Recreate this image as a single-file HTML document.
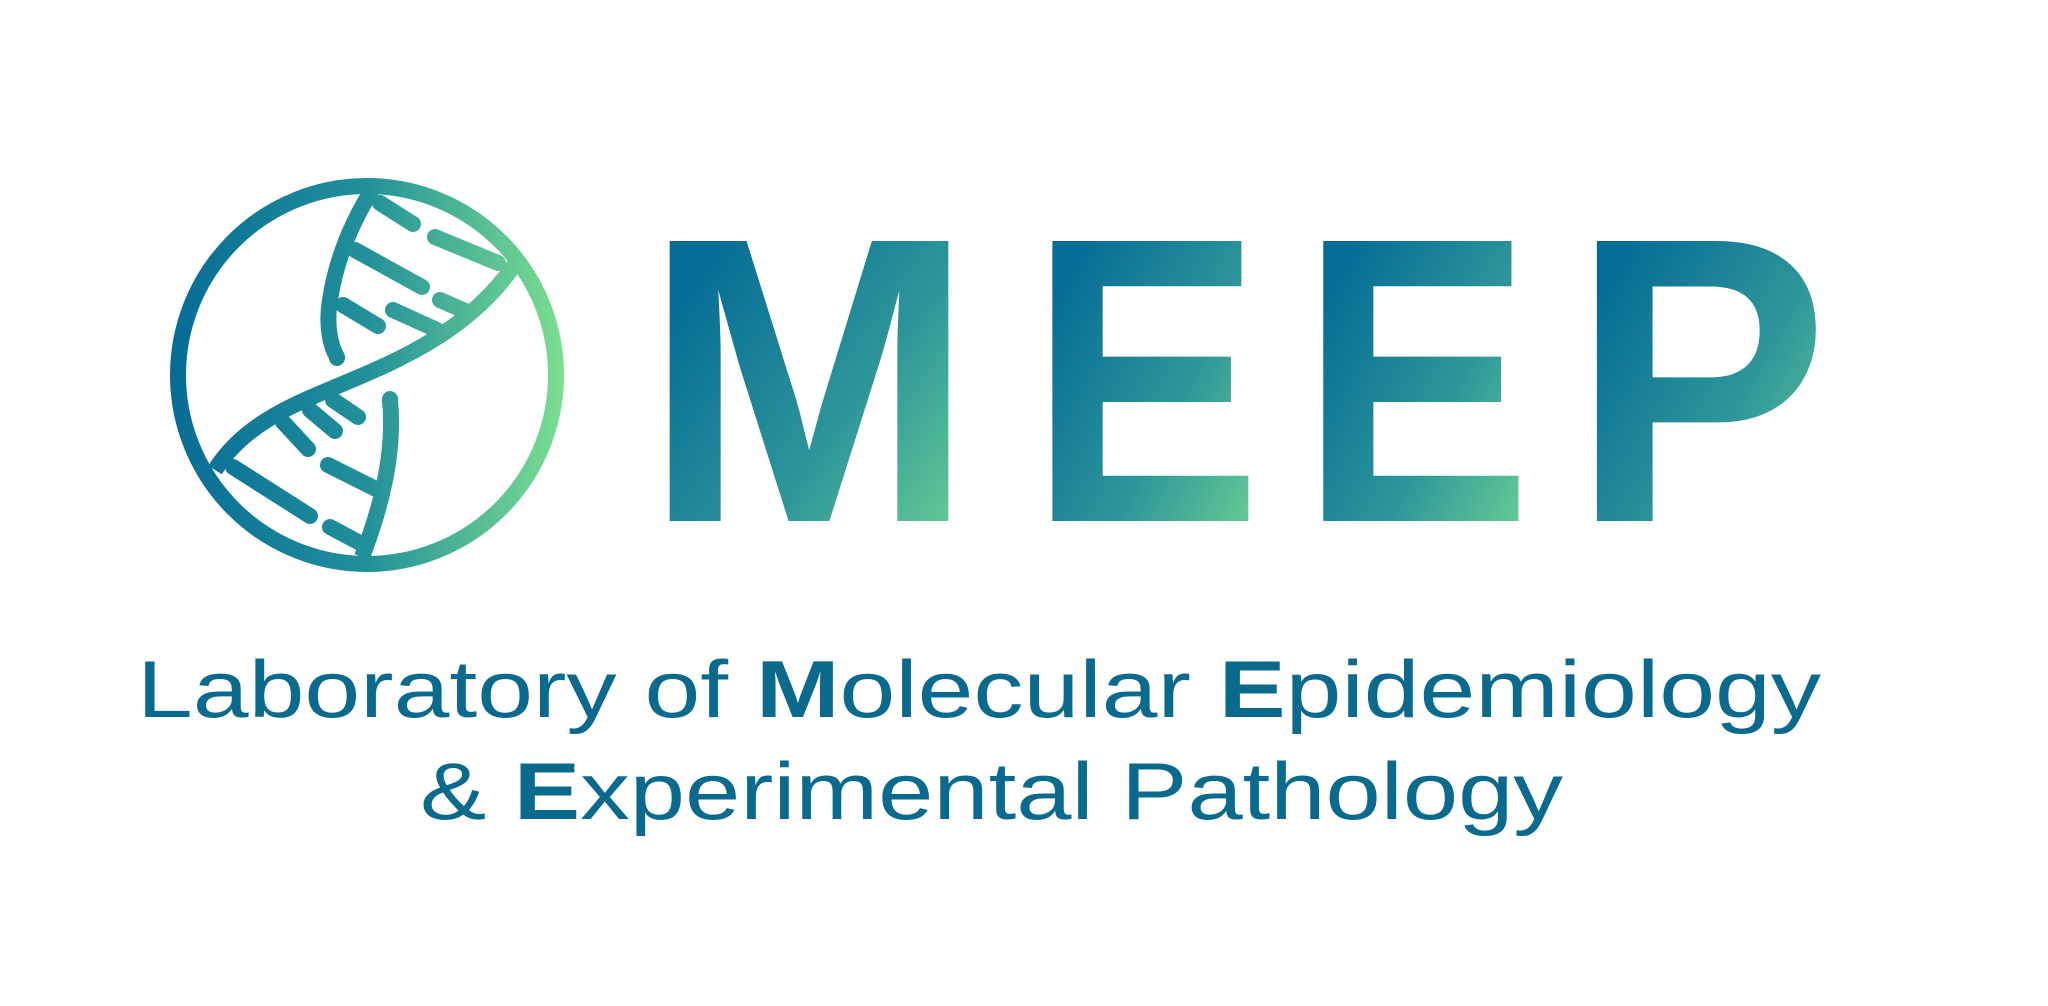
<!DOCTYPE html>
<html><head><meta charset="utf-8"><style>
html,body{margin:0;padding:0;background:#fff;}
svg{display:block}
</style></head><body>
<svg width="2048" height="1006" viewBox="0 0 2048 1006" xmlns="http://www.w3.org/2000/svg">
<defs>
<linearGradient id="gl" x1="0" y1="0" x2="1" y2="1">
<stop offset="0.2" stop-color="#066b95"/><stop offset="0.6" stop-color="#2e979a"/><stop offset="1" stop-color="#7ddf90"/>
</linearGradient>
<linearGradient id="gc" gradientUnits="userSpaceOnUse" x1="168" y1="0" x2="565" y2="0">
<stop offset="0" stop-color="#066b95"/><stop offset="0.5" stop-color="#22909a"/><stop offset="1" stop-color="#7ddf90"/>
</linearGradient>
</defs>
<g fill="none" stroke="url(#gc)" stroke-width="16" stroke-linecap="round">
<circle cx="367" cy="375" r="189"/>
<path d="M372 190 C352 222 336 260 330 300 C326 325 330 345 337 357" stroke-linecap="butt"/>
<path d="M337 357 L337 358"/>
<path d="M215 470 C245 422 300 402 340 385 C400 360 470 330 515 264" stroke-linecap="butt"/>
<path d="M390 400 C394 440 388 490 362 557" stroke-linecap="butt"/>
<path d="M390 400 L390 399"/>
<line x1="380" y1="203" x2="413" y2="224"/>
<line x1="435" y1="237" x2="498" y2="263"/>
<line x1="355" y1="250" x2="422" y2="287"/>
<line x1="440" y1="300" x2="465" y2="311"/>
<line x1="343" y1="305" x2="378" y2="326"/>
<line x1="393" y1="310" x2="437" y2="330"/>
<line x1="333" y1="400" x2="358" y2="417"/>
<line x1="310" y1="410" x2="335" y2="431"/>
<line x1="283" y1="422" x2="308" y2="449"/>
<line x1="233" y1="467" x2="310" y2="516"/>
<line x1="328" y1="465" x2="376" y2="489"/>
<line x1="330" y1="527" x2="360" y2="543"/>
</g>
<g font-family="Liberation Sans, sans-serif" font-weight="bold" font-size="407" fill="url(#gl)">
<text x="643" y="521" textLength="332" lengthAdjust="spacingAndGlyphs">M</text>
<text x="1029" y="521" textLength="233" lengthAdjust="spacingAndGlyphs">E</text>
<text x="1300" y="521" textLength="232" lengthAdjust="spacingAndGlyphs">E</text>
<text x="1571" y="521" textLength="258" lengthAdjust="spacingAndGlyphs">P</text>
</g>
<text x="137" y="717" font-family="Liberation Sans, sans-serif" font-size="81" fill="#0a6a8e" textLength="1684" lengthAdjust="spacingAndGlyphs">Laboratory of <tspan font-weight="bold">M</tspan>olecular <tspan font-weight="bold">E</tspan>pidemiology</text>
<text x="420" y="819" font-family="Liberation Sans, sans-serif" font-size="81" fill="#0a6a8e" textLength="1143" lengthAdjust="spacingAndGlyphs">&amp; <tspan font-weight="bold">E</tspan>xperimental Pathology</text>
</svg>
</body></html>
